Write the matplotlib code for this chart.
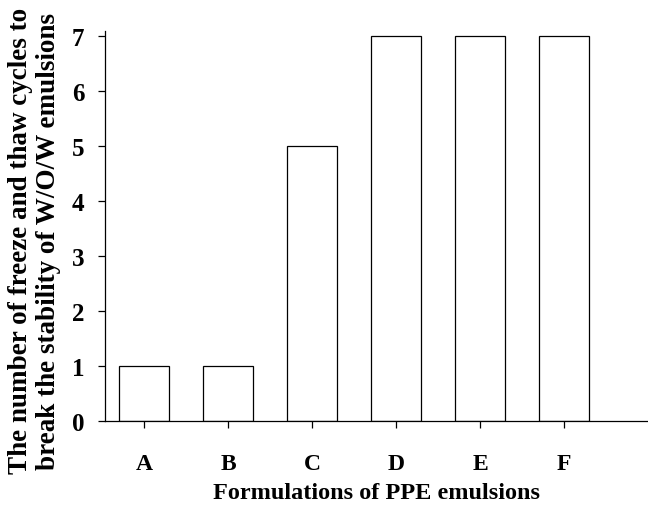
import matplotlib
matplotlib.use("Agg")
import matplotlib.pyplot as plt

categories = ["A", "B", "C", "D", "E", "F"]
cycles = [1, 1, 5, 7, 7, 7]
yticks = [0, 1, 2, 3, 4, 5, 6, 7]

plt.rcParams['font.family'] = ['Liberation Serif', 'DejaVu Serif']
plt.rcParams['font.weight'] = 'bold'

fig = plt.figure(figsize=(6.48, 5.06), dpi=100)
ax = fig.add_axes([0.162, 0.166, 0.838, 0.771])
x = list(range(len(categories)))
ax.bar(x, cycles, width=0.6, facecolor='white', edgecolor='black', linewidth=0.9)
ax.set_xlim(-0.464, 6.0)
ax.set_ylim(0, 7.1)
ax.set_xticks(x)
ax.set_xticklabels(categories, fontsize=17, fontweight='bold')
ax.set_yticks(yticks)
ax.set_yticklabels([str(v) for v in yticks], fontsize=18, fontweight='bold')
for s in ['top', 'right']:
    ax.spines[s].set_visible(False)
for s in ['left', 'bottom']:
    ax.spines[s].set_linewidth(0.9)
ax.tick_params(axis='both', direction='out', length=5, width=0.9)
ax.tick_params(axis='x', pad=18)
ax.tick_params(axis='y', pad=10)
ax.set_xlabel("Formulations of PPE emulsions", fontsize=17.5, fontweight='bold', labelpad=6)
fig.text(34.5 / 648, 1 - 241 / 506,
         "The number of freeze and thaw cycles to\nbreak the stability of W/O/W emulsions",
         fontsize=19.5, fontweight='bold', rotation=90, ha='center', va='center',
         linespacing=1.2, multialignment='center')
fig.savefig("out.png", dpi=100)
